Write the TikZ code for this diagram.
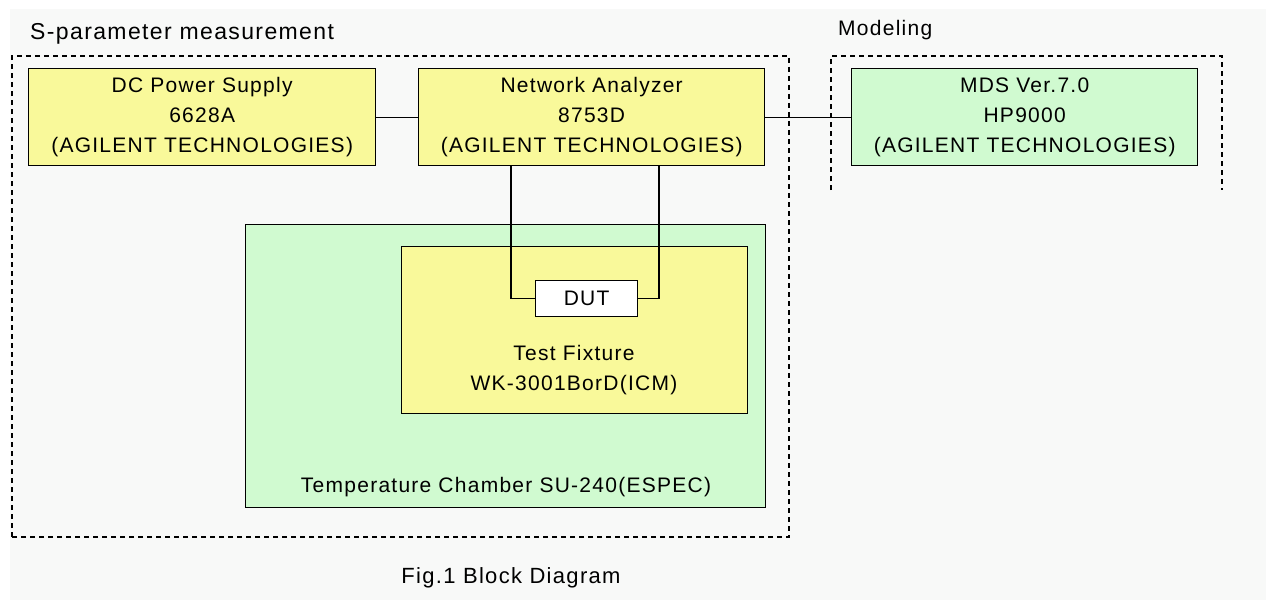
\documentclass[tikz,border=0pt]{standalone}
\usepackage{fontspec}
\setmainfont{Liberation Sans}[LetterSpace=6]
\begin{document}
\begin{tikzpicture}[x=1pt,y=-1pt,
  txt/.style={font=\fontsize{21}{30}\selectfont, align=center, inner sep=0pt},
  bigtxt/.style={font=\fontsize{23}{30}\selectfont, inner sep=0pt},
  yelbox/.style={draw=black, line width=1.3pt, fill=boxyellow},
  grnbox/.style={draw=black, line width=1.3pt, fill=boxgreen},
  grp/.style={draw=black, line width=1.2pt, dash pattern=on 5pt off 4pt},
  wire/.style={draw=black, line width=1.3pt}]
\definecolor{boxyellow}{HTML}{F9F99A}
\definecolor{boxgreen}{HTML}{D0FAD0}
\definecolor{bg}{HTML}{F8F9F8}
\useasboundingbox (0,0) rectangle (1266,605);
\fill[white] (0,0) rectangle (1266,605);
\fill[bg] (10,9) rectangle (1266,600);
% group frames
\draw[grp] (12,537) -- (12,56) -- (789,56) -- (789,537) -- cycle;
\draw[grp] (831,190) -- (831,56) -- (1222,56) -- (1222,190);
\node[bigtxt, anchor=west] (lblS) at (30,34) {S-parameter measurement};
\node[txt, anchor=west] (lblM) at (838,30) {Modeling};
% chamber and fixture
\node[grnbox, minimum width=520, minimum height=283, anchor=north west, inner sep=0pt] (ch) at (245,224) {};
\node[txt] (chl) at (506,487) {Temperature Chamber SU-240(ESPEC)};
\node[yelbox, minimum width=346, minimum height=167, anchor=north west, inner sep=0pt] (tf) at (401,246) {};
\node[txt] (tfl) at (574,370) {Test Fixture\\WK-3001BorD(ICM)};
% top boxes
\node[yelbox, txt, minimum width=347, minimum height=97, anchor=north west] (dc) at (28,68) {DC Power Supply\\6628A\\(AGILENT TECHNOLOGIES)};
\node[yelbox, txt, minimum width=346, minimum height=97, anchor=north west] (na) at (418,68) {Network Analyzer\\8753D\\(AGILENT TECHNOLOGIES)};
\node[grnbox, txt, minimum width=346, minimum height=97, anchor=north west] (mds) at (851,68) {MDS Ver.7.0\\HP9000\\(AGILENT TECHNOLOGIES)};
% DUT
\node[draw=black, line width=1.3pt, fill=white, txt, minimum width=102, minimum height=36, anchor=north west] (dut) at (535,280) {DUT};
% wires
\draw[wire] (dc.east) -- (na.west);
\draw[wire] (na.east) -- (mds.west);
\draw[wire] (na.south -| 511,0) |- (dut.west);
\draw[wire] (na.south -| 659,0) |- (dut.east);
\node[font=\fontsize{22}{30}\selectfont, inner sep=0pt] (cap) at (511,578) {Fig.1 Block Diagram};
\end{tikzpicture}
\end{document}
